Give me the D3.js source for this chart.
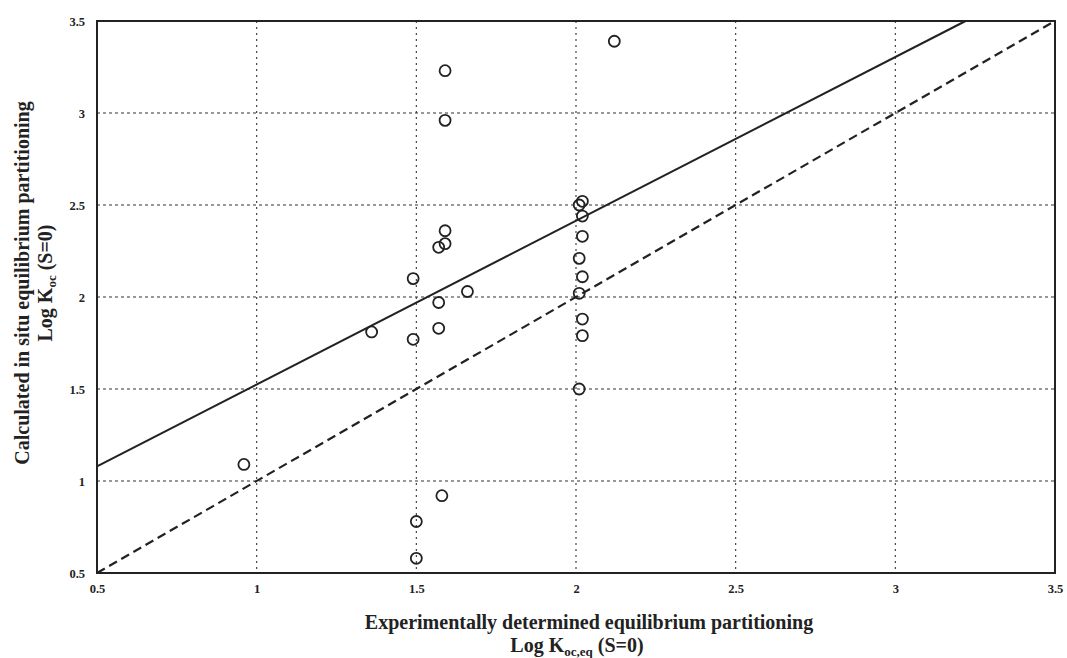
<!DOCTYPE html>
<html>
<head>
  <meta charset="utf-8">
  <script src="https://d3js.org/d3.v7.min.js"></script>
  <style>
    body { margin: 0; background: #fff; }
    svg text { font-family: "Liberation Serif", "Times New Roman", serif; fill: #222; }
  </style>
</head>
<body>
<script>
// measured log Koc values (x = experimental, y = calculated in situ)
var xVals = [2.12, 1.59, 1.59, 2.02, 2.01, 2.02, 1.59, 1.59, 1.57, 2.02, 2.01, 2.02, 1.49,
             1.66, 2.01, 1.57, 2.02, 1.36, 1.57, 1.49, 2.02, 2.01, 1.58, 1.50, 1.50, 0.96];
var yVals = [3.39, 3.23, 2.96, 2.52, 2.50, 2.44, 2.36, 2.29, 2.27, 2.33, 2.21, 2.11, 2.10,
             2.03, 2.02, 1.97, 1.88, 1.81, 1.83, 1.77, 1.79, 1.50, 0.92, 0.78, 0.58, 1.09];

// fitted line (solid) and 1:1 line (dashed)
var fitX = [0.5, 3.22];
var fitY = [1.08, 3.5];
var oneX = [0.5, 3.5];
var oneY = [0.5, 3.5];

var tickVals = [0.5, 1, 1.5, 2, 2.5, 3, 3.5];
var tickLabels = ["0.5", "1", "1.5", "2", "2.5", "3", "3.5"];

var W = 1067, H = 658;
var pl = 97, pr = 1055, pt = 21, pb = 573;

var svg = d3.select("body").append("svg")
  .attr("width", W).attr("height", H);

var x = d3.scaleLinear().domain([0.5, 3.5]).range([pl, pr]);
var y = d3.scaleLinear().domain([0.5, 3.5]).range([pb, pt]);

// grid lines
var inner = tickVals.slice(1, -1);
svg.append("g").selectAll("line")
  .data(inner).enter().append("line")
  .attr("x1", d => x(d)).attr("x2", d => x(d))
  .attr("y1", pt).attr("y2", pb)
  .style("stroke", "#333").style("stroke-width", 1.1)
  .style("stroke-dasharray", "2,4");

svg.append("g").selectAll("line")
  .data(inner).enter().append("line")
  .attr("x1", pl).attr("x2", pr)
  .attr("y1", d => y(d)).attr("y2", d => y(d))
  .style("stroke", "#333").style("stroke-width", 1.1)
  .style("stroke-dasharray", "3,3");

// axes (labels only, frame drawn separately)
var xAxis = d3.axisBottom(x).tickValues(tickVals)
  .tickFormat((d, i) => tickLabels[i]).tickSize(0).tickPadding(11);
var yAxis = d3.axisLeft(y).tickValues(tickVals)
  .tickFormat((d, i) => tickLabels[i]).tickSize(0).tickPadding(12);

var gx = svg.append("g").attr("transform", "translate(0," + pb + ")").call(xAxis);
var gy = svg.append("g").attr("transform", "translate(" + pl + ",0)").call(yAxis);
[gx, gy].forEach(function(g) {
  g.select(".domain").remove();
  g.selectAll("text")
    .style("font-family", "'Liberation Serif', serif")
    .style("font-size", "12.5px").style("font-weight", "bold").style("fill", "#222");
});

// lines
var line = d3.line().x(d => x(d[0])).y(d => y(d[1]));
svg.append("path")
  .attr("d", line(d3.zip(fitX, fitY)))
  .style("fill", "none").style("stroke", "#222").style("stroke-width", 2);
svg.append("path")
  .attr("d", line(d3.zip(oneX, oneY)))
  .style("fill", "none").style("stroke", "#222").style("stroke-width", 2.2)
  .style("stroke-dasharray", "9,5");

// frame
svg.append("rect")
  .attr("x", pl).attr("y", pt)
  .attr("width", pr - pl).attr("height", pb - pt)
  .style("fill", "none").style("stroke", "#222").style("stroke-width", 2);

// points
svg.append("g").selectAll("circle")
  .data(d3.zip(xVals, yVals)).enter().append("circle")
  .attr("cx", d => x(d[0])).attr("cy", d => y(d[1]))
  .attr("r", 5.5)
  .style("fill", "none").style("stroke", "#222").style("stroke-width", 1.8);

// x title
svg.append("text")
  .attr("x", 589).attr("y", 629)
  .attr("text-anchor", "middle")
  .style("font-size", "20px").style("font-weight", "bold")
  .text("Experimentally determined equilibrium partitioning");

var xt2 = svg.append("text")
  .attr("x", 577).attr("y", 652)
  .attr("text-anchor", "middle")
  .style("font-size", "20px").style("font-weight", "bold");
xt2.append("tspan").text("Log K");
xt2.append("tspan").attr("dy", 4).style("font-size", "13px").text("oc,eq");
xt2.append("tspan").attr("dy", -4).text(" (S=0)");

// y title
svg.append("text")
  .attr("transform", "translate(29,283) rotate(-90)")
  .attr("text-anchor", "middle")
  .style("font-size", "20px").style("font-weight", "bold")
  .text("Calculated in situ equilibrium partitioning");

var yt2 = svg.append("text")
  .attr("transform", "translate(52,283) rotate(-90)")
  .attr("text-anchor", "middle")
  .style("font-size", "20px").style("font-weight", "bold");
yt2.append("tspan").text("Log K");
yt2.append("tspan").attr("dy", 4).style("font-size", "13px").text("oc");
yt2.append("tspan").attr("dy", -4).text(" (S=0)");
</script>
</body>
</html>
